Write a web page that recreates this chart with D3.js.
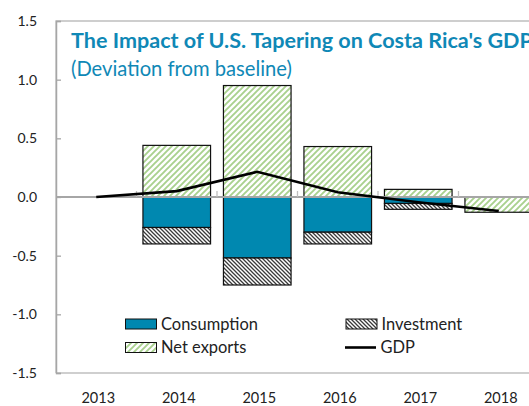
<!DOCTYPE html>
<html><head><meta charset="utf-8">
<script src="https://cdn.jsdelivr.net/npm/d3@7"></script>
<style>body{margin:0;background:#fff}svg{display:block}text{font-family:Lato,"Open Sans",sans-serif}</style>
</head><body><svg id="c" width="529" height="406"></svg>
<script>
const years = ["2013","2014","2015","2016","2017","2018"];
const consumption = [0, -0.26, -0.52, -0.30, -0.055, 0];
const investment  = [0, -0.14, -0.23, -0.10, -0.05, 0];
const netExports  = [0, 0.44, 0.95, 0.43, 0.065, -0.13];
const gdp         = [0, 0.05, 0.215, 0.04, -0.045, -0.12];
const yTicks = [-1.5,-1.0,-0.5,0,0.5,1.0,1.5];
const title = "The Impact of U.S. Tapering on Costa Rica's GDP";
const subtitle = "(Deviation from baseline)";

const svg = d3.select("#c");
const L=56, R=539, T=21, B=373;
const x = d3.scaleBand().domain(years).range([L,R]).paddingInner(0.16).paddingOuter(0.08);
const xc = d3.scaleBand().domain(years).range([L,R]);
const y = d3.scaleLinear().domain([-1.5,1.5]).range([B,T]);
const grey="#a6a6a6", blue="#0088b0", green="#a9d18e";

const defs = svg.append("defs");
const pg = defs.append("pattern").attr("id","pNX").attr("patternUnits","userSpaceOnUse").attr("width",6).attr("height",6);
pg.append("rect").attr("width",6).attr("height",6).attr("fill","#fff");
pg.append("path").attr("d","M0,6L6,0M-1.5,1.5L1.5,-1.5M4.5,7.5L7.5,4.5").attr("stroke",green).attr("stroke-width",1.9);
const pi = defs.append("pattern").attr("id","pInv").attr("patternUnits","userSpaceOnUse").attr("width",4).attr("height",4);
pi.append("rect").attr("width",4).attr("height",4).attr("fill","#fff");
pi.append("path").attr("d","M0,0L4,4M-1,3L1,5M3,-1L5,1").attr("stroke","#3a3a3a").attr("stroke-width",1.3);

// plot border
svg.append("path").attr("d",`M${L},${B}V${T}H${R+5}`).attr("fill","none").attr("stroke","#bfbfbf").attr("stroke-width",1.3);
svg.append("line").attr("x1",L).attr("x2",R+5).attr("y1",B).attr("y2",B).attr("stroke","#bfbfbf").attr("stroke-width",1.3);

// y axis
const yAxis = d3.axisRight(y).tickValues(yTicks).tickSize(5).tickFormat("");
const ya = svg.append("g").attr("transform",`translate(${L},0)`).call(yAxis);
ya.select(".domain").attr("stroke",grey).attr("stroke-width",1.5);
ya.selectAll(".tick line").attr("stroke",grey).attr("stroke-width",1.3);
svg.append("g").selectAll("text").data(yTicks).join("text")
  .attr("x",37).attr("y",d=>y(d)).attr("dy","0.35em").attr("text-anchor","end")
  .attr("font-size",14).attr("fill","#222").text(d=>d3.format(".1f")(d).replace("−","-"));

// stacked bars
const rows = years.map((yr,i)=>({year:yr,Consumption:consumption[i],Investment:investment[i],NetExports:netExports[i]}));
const keys=["Consumption","Investment","NetExports"];
const stack = d3.stack().keys(keys).offset(d3.stackOffsetDiverging)(rows);
const fills={Consumption:blue,Investment:"url(#pInv)",NetExports:"url(#pNX)"};
stack.forEach(s=>{
  svg.append("g").selectAll("rect").data(s.filter(d=>d[1]!==d[0])).join("rect")
    .attr("x",d=>x(d.data.year)).attr("width",x.bandwidth())
    .attr("y",d=>y(Math.max(d[0],d[1]))).attr("height",d=>Math.abs(y(d[0])-y(d[1])))
    .attr("fill",fills[s.key]).attr("stroke","#111").attr("stroke-width",1.2);
});

// zero line + category ticks
svg.append("line").attr("x1",L).attr("x2",R+5).attr("y1",y(0)).attr("y2",y(0)).attr("stroke",grey).attr("stroke-width",2);
svg.append("g").selectAll("line").data(years.slice(1)).join("line")
  .attr("x1",d=>xc(d)).attr("x2",d=>xc(d)).attr("y1",y(0)-6).attr("y2",y(0))
  .attr("stroke","#bfbfbf").attr("stroke-width",1.3);

// GDP line
const line = d3.line().x((d,i)=>xc(years[i])+xc.bandwidth()/2).y(d=>y(d));
svg.append("path").datum(gdp).attr("d",line).attr("fill","none").attr("stroke","#000").attr("stroke-width",2.6);

// x labels
svg.append("g").selectAll("text").data(years).join("text")
  .attr("x",d=>xc(d)+xc.bandwidth()/2+2).attr("y",397.5).attr("dy","0.35em").attr("text-anchor","middle")
  .attr("font-size",14.5).attr("fill","#222").text(d=>d);

// titles
const tt = svg.append("text").attr("x",71).attr("y",47.5).attr("font-weight","bold").attr("font-size",20).attr("fill","#0f88b6").text(title);
let w = tt.node().getComputedTextLength(); tt.attr("font-size",20*462/w);
const st = svg.append("text").attr("x",71).attr("y",75.5).attr("font-size",18).attr("fill","#0f88b6").text(subtitle);
w = st.node().getComputedTextLength(); st.attr("font-size",18*221/w);

// legend
const leg = [
 {name:"Consumption",type:"rect",fill:blue,x:125.5,y:324},
 {name:"Investment",type:"rect",fill:"url(#pInv)",x:346,y:324},
 {name:"Net exports",type:"rect",fill:"url(#pNX)",x:125.5,y:347.5},
 {name:"GDP",type:"line",x:345,y:347.5}
];
const legTexts = [];
leg.forEach(l=>{
  if(l.type==="rect") svg.append("rect").attr("x",l.x).attr("y",l.y-5).attr("width",31).attr("height",10).attr("fill",l.fill).attr("stroke","#111").attr("stroke-width",1);
  else svg.append("line").attr("x1",l.x).attr("x2",l.x+31).attr("y1",l.y).attr("y2",l.y).attr("stroke","#000").attr("stroke-width",2.6);
  legTexts.push(svg.append("text").attr("x",l.x+35.5).attr("y",l.y).attr("dy","0.35em").attr("font-size",15).attr("fill","#222").text(l.name));
});
const lw = legTexts[0].node().getComputedTextLength();
const lfs = Math.min(17, 15*97/lw);
legTexts.forEach(t=>t.attr("font-size",lfs));
</script></body></html>
